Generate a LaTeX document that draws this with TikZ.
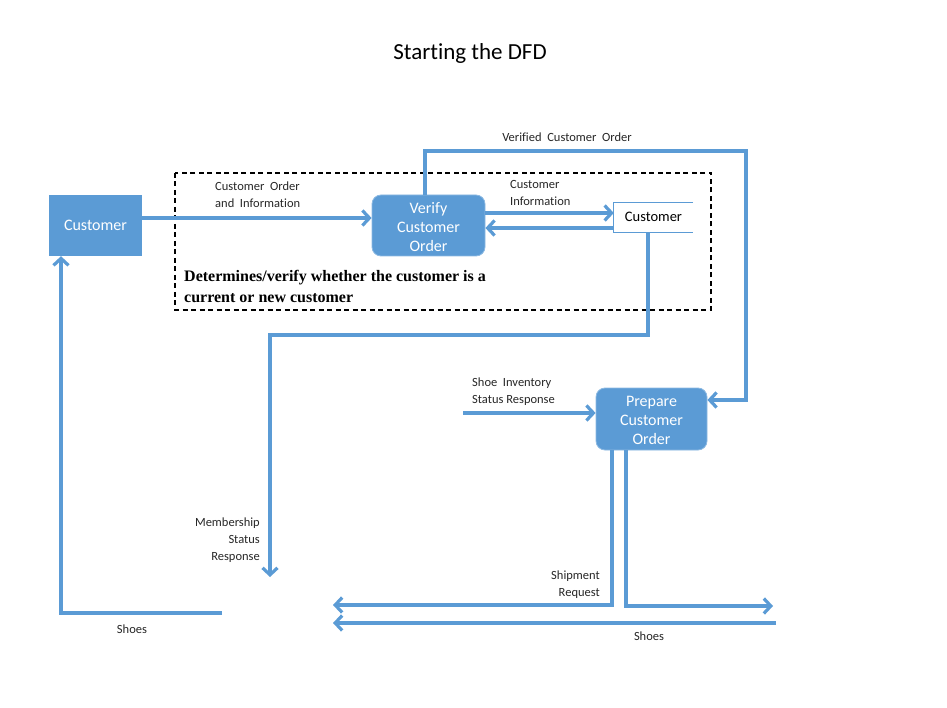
\documentclass[tikz,border=0pt]{standalone}
\usepackage{fontspec}
\setmainfont{Carlito}[Ligatures=NoCommon]
\newfontfamily\timesf{Liberation Serif}
\usetikzlibrary{arrows.meta}
\definecolor{dfdblue}{HTML}{5B9BD5}
\tikzset{
  flow/.style={draw=dfdblue, line width=3.2pt, -{Straight Barb[length=7pt,width=15pt,line width=3.2pt]}},
  entity/.style={fill=dfdblue, text=white, minimum width=93pt, minimum height=61pt, font=\fontsize{16}{19}\selectfont, inner sep=0pt},
  process/.style={fill=dfdblue, draw=dfdblue!70!white, line width=0.8pt, rounded corners=9pt, text=white, align=center, font=\fontsize{16}{19}\selectfont, inner sep=0pt},
  lbl/.style={font=\fontsize{12.5}{17}\selectfont, inner sep=0pt, text=black!85},
}
\begin{document}
\begin{tikzpicture}[x=1pt,y=-1pt]
\useasboundingbox (0,0) rectangle (947,708);
\node[font=\fontsize{23}{27}\selectfont] (title) at (470,53) {Starting the DFD};
% dashed boundary
\draw[line width=1.4pt, dash pattern=on 5pt off 3.5pt] (175,173) rectangle (711,310);
\node[anchor=north west, align=left, font=\timesf\bfseries\fontsize{16}{21}\selectfont, inner sep=0pt] (note) at (184,270) {Determines/verify whether the customer is a\\current or new customer};
% nodes
\node[entity] (cust) at (95.5,225.5) {Customer};
\node[process, minimum width=113pt, minimum height=61pt] (verify) at (428.5,225.5) {\strut Verify\\Customer\\Order};
\node[process, minimum width=111pt, minimum height=62pt] (prep) at (651.5,419) {\strut Prepare\\Customer\\Order};
\node[minimum width=79pt, minimum height=29pt, inner sep=0pt, font=\fontsize{14.5}{17}\selectfont] (store) at (653.5,217.5) {\raisebox{2pt}{Customer}};
\draw[dfdblue, line width=1.3pt] (store.north east) -- (store.north west) -- (store.south west) -- (store.south east);
% free ends
\coordinate (memb) at (270,577);
\coordinate (inv) at (463,413);
\coordinate (shipend) at (333,605);
\coordinate (shoesR) at (773,606);
\coordinate (shoesBs) at (776,623);
\coordinate (shoesBe) at (333,623);
\coordinate (shoesL) at (222,613);
% connectors
\draw[flow] (cust.east |- 0,218) -- (verify.west |- 0,218);
\draw[flow] (verify.east |- 0,213) -- (store.west |- 0,213);
\draw[flow] (store.west |- 0,228) -- (verify.east |- 0,228);
\draw[flow] (verify.north -| 425,0) -- (425,151) -- (746,151) |- (prep.east |- 0,400);
\draw[flow] (store.south -| 648,0) -- (648,335) -| (memb);
\draw[flow] (inv) -- (prep.west |- inv);
\draw[flow] (prep.south -| 612,0) |- (shipend);
\draw[flow] (prep.south -| 626,0) |- (shoesR);
\draw[flow] (shoesBs) -- (shoesBe);
\draw[flow] (shoesL) -| (cust.south -| 61,0);
% labels
\node[lbl, anchor=north west, align=left] (l1) at (215,182) {Customer\ \ Order\\and\ \ Information};
\node[lbl, anchor=north west, align=left] (l2) at (510,180) {Customer\\Information};
\node[lbl, anchor=north] (l3) at (567,133) {Verified\ \ Customer\ \ Order};
\node[lbl, anchor=north east, align=right] (l4) at (260,518) {Membership\\Status\ \\Response};
\node[lbl, anchor=north west, align=left] (l5) at (472,378) {Shoe\ \ Inventory\\Status Response};
\node[lbl, anchor=north east, align=right] (l6) at (600,571) {Shipment\\Request};
\node[lbl, anchor=north] (l7) at (649,632) {Shoes};
\node[lbl, anchor=north] (l8) at (132,625) {Shoes};
\end{tikzpicture}
\end{document}
